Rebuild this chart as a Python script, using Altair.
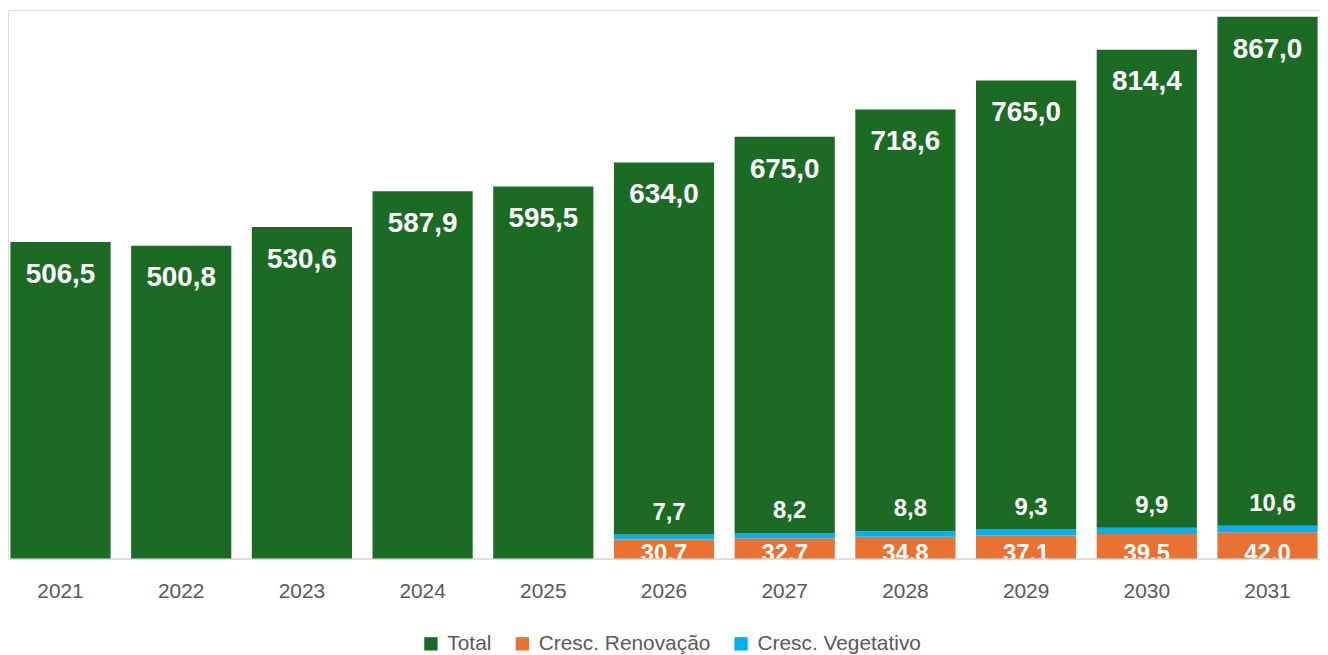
import altair as alt
import pandas as pd

years = ["2021", "2022", "2023", "2024", "2025", "2026", "2027", "2028", "2029", "2030", "2031"]
total = [506.5, 500.8, 530.6, 587.9, 595.5, 634.0, 675.0, 718.6, 765.0, 814.4, 867.0]
renovacao = [0, 0, 0, 0, 0, 30.7, 32.7, 34.8, 37.1, 39.5, 42.0]
vegetativo = [0, 0, 0, 0, 0, 7.7, 8.2, 8.8, 9.3, 9.9, 10.6]

series = ["Total", "Cresc. Renovação", "Cresc. Vegetativo"]
colors = ["#1B6B24", "#E97132", "#00B0F0"]


def fmt(v):
    return f"{v:.1f}".replace(".", ",")


rows = []
for y, t, r, v in zip(years, total, renovacao, vegetativo):
    rows.append({"ano": y, "serie": "Cresc. Renovação", "valor": r, "ord": 0})
    rows.append({"ano": y, "serie": "Cresc. Vegetativo", "valor": v, "ord": 1})
    rows.append({"ano": y, "serie": "Total", "valor": round(t - r - v, 1), "ord": 2})
long_df = pd.DataFrame(rows)

lab_df = pd.DataFrame({
    "ano": years,
    "total": total,
    "top_small": [r + v for r, v in zip(renovacao, vegetativo)],
    "lab_total": [fmt(t) for t in total],
    "lab_ren": [fmt(r) if r else "" for r in renovacao],
    "lab_veg": [fmt(v) if v else "" for v in vegetativo],
})

x_axis = alt.Axis(title=None, labelAngle=0, ticks=False, grid=False,
                  domainColor="#D9D9D9", domainWidth=1.5,
                  labelColor="#595959", labelFont="Liberation Sans",
                  labelFontSize=21, labelPadding=22)
x_scale = alt.Scale(paddingInner=0.17, paddingOuter=0.02)
x_enc = alt.X("ano:N", sort=years, scale=x_scale, axis=x_axis)
y_scale = alt.Scale(domain=[0, 878], nice=False)

bars = alt.Chart(long_df).mark_bar().encode(
    x=x_enc,
    y=alt.Y("valor:Q", stack="zero", scale=y_scale, axis=None),
    color=alt.Color("serie:N",
                    scale=alt.Scale(domain=series, range=colors),
                    legend=alt.Legend(title=None, orient="none", direction="horizontal",
                                      legendX=415, legendY=627,
                                      symbolType="square", symbolSize=180,
                                      symbolStrokeWidth=0, labelLimit=400,
                                      labelFont="Liberation Sans", labelFontSize=21,
                                      labelColor="#595959", columnPadding=20,
                                      symbolOffset=0, labelOffset=6)),
    order=alt.Order("ord:Q"),
)

base = alt.Chart(lab_df)

t_total = base.mark_text(color="white", font="Liberation Sans", fontWeight="bold",
                         fontSize=28, baseline="middle", dy=33).encode(
    x=x_enc,
    y=alt.Y("total:Q", scale=y_scale, axis=None),
    text="lab_total:N",
)

t_veg = base.mark_text(color="white", font="Liberation Sans", fontWeight="bold",
                       fontSize=24, baseline="middle", dy=-22, dx=5).encode(
    x=x_enc,
    y=alt.Y("top_small:Q", scale=y_scale, axis=None),
    text="lab_veg:N",
)

t_ren = base.mark_text(color="white", font="Liberation Sans", fontWeight="bold",
                       fontSize=24, baseline="alphabetic", dy=2, clip=True).encode(
    x=x_enc,
    y=alt.value(552),
    text="lab_ren:N",
)

chart = alt.layer(bars, t_total, t_veg, t_ren).properties(
    width=1320, height=552, padding=0,
).configure_view(strokeWidth=0, stroke="transparent").configure(background="white")

chart.save("out.html", embed_options={"renderer": "svg", "actions": False})
